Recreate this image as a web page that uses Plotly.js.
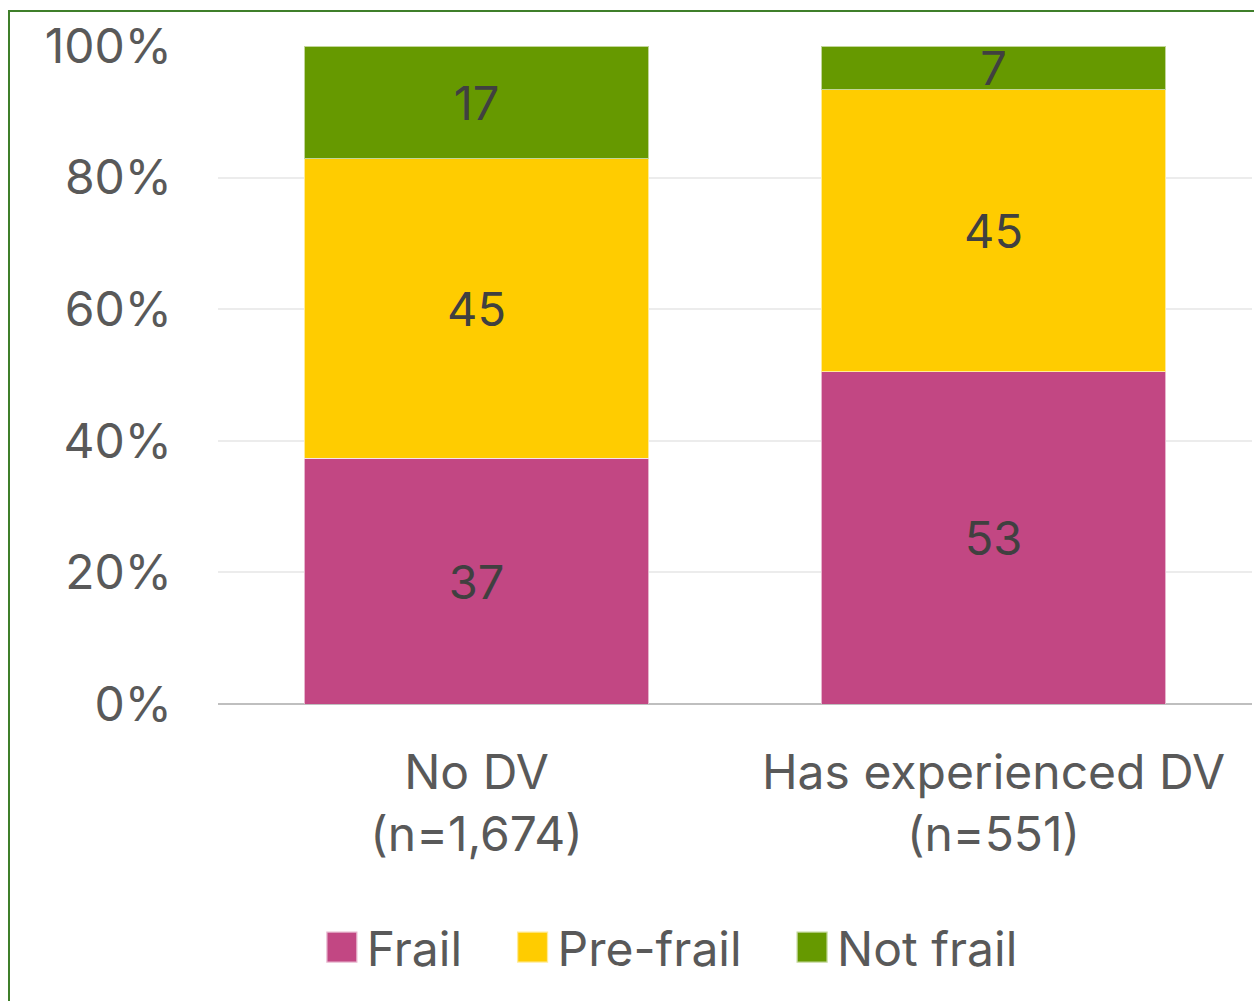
<!DOCTYPE html>
<html>
<head>
<meta charset="utf-8">
<script src="https://cdn.plot.ly/plotly-3.0.1.min.js"></script>
<style>
  html, body { margin: 0; padding: 0; background: #fff; }
  #chart { width: 1254px; height: 1001px; position: absolute; left: 0; top: 0; }
  #frame { position: absolute; left: 8px; top: 10px; width: 1300px; height: 1100px;
           border: 2px solid #3f7f2a; pointer-events: none; box-sizing: border-box; }
</style>
</head>
<body>
<div id="chart"></div>
<div id="frame"></div>
<script>
const categories = ["No DV<br>(n=1,674)", "Has experienced DV<br>(n=551)"];
const frail = [37, 53];
const preFrail = [45, 45];
const notFrail = [17, 7];
const seriesNames = ["Frail", "Pre-frail", "Not frail"];
const yTicks = [0, 20, 40, 60, 80, 100];

const FONT = 'Inter, "Open Sans", sans-serif';
const colors = ["#C24783", "#FFCC00", "#669900"];
const values = [frail, preFrail, notFrail];
const pad = ['\u00a0\u00a0\u00a0', '\u00a0\u00a0\u00a0', ''];

const traces = values.map((v, i) => ({
  type: 'bar',
  name: seriesNames[i] + pad[i],
  x: categories,
  y: v,
  text: v.map(String),
  texttemplate: '%{text}',
  textposition: 'inside',
  insidetextanchor: 'middle',
  textangle: 0,
  constraintext: 'none',
  textfont: { family: FONT, size: 47, color: '#404040' },
  marker: { color: colors[i], line: { color: 'rgba(255,255,255,0.6)', width: 1 } },
  hoverinfo: 'none'
}));

const layout = {
  width: 1254, height: 1001,
  margin: { l: 218, r: 2, t: 46, b: 297 },
  paper_bgcolor: '#ffffff', plot_bgcolor: '#ffffff',
  barmode: 'stack', barnorm: 'percent',
  bargap: 0.333,
  showlegend: true,
  legend: {
    orientation: 'h', x: 0.437, xanchor: 'center', y: -0.37, yanchor: 'middle',
    font: { family: FONT, size: 48, color: '#595959' },
    itemwidth: 40, traceorder: 'normal'
  },
  xaxis: {
    type: 'category',
    tickfont: { family: FONT, size: 48, color: '#595959' },
    ticks: '', showgrid: false, showline: false, zeroline: false,
    ticklabelstandoff: 36
  },
  yaxis: {
    range: [0, 100], tickvals: yTicks, ticktext: yTicks.map(t => t + '%'),
    tickfont: { family: FONT, size: 48, color: '#595959' },
    ticks: '', showgrid: true, gridcolor: '#ececec', gridwidth: 2,
    zeroline: true, zerolinecolor: '#bfbfbf', zerolinewidth: 2,
    showline: false, ticklabelstandoff: 45
  },
  font: { family: FONT }
};

Plotly.newPlot('chart', traces, layout, { displayModeBar: false, staticPlot: true }).then(() => {
  document.querySelectorAll('#chart .legend .legendpoints path').forEach(p => {
    p.style.transformBox = 'fill-box';
    p.style.transformOrigin = 'center';
    const t = p.getAttribute('transform') || '';
    p.setAttribute('transform', t + ' scale(2.6)');
  });
});
</script>
</body>
</html>
